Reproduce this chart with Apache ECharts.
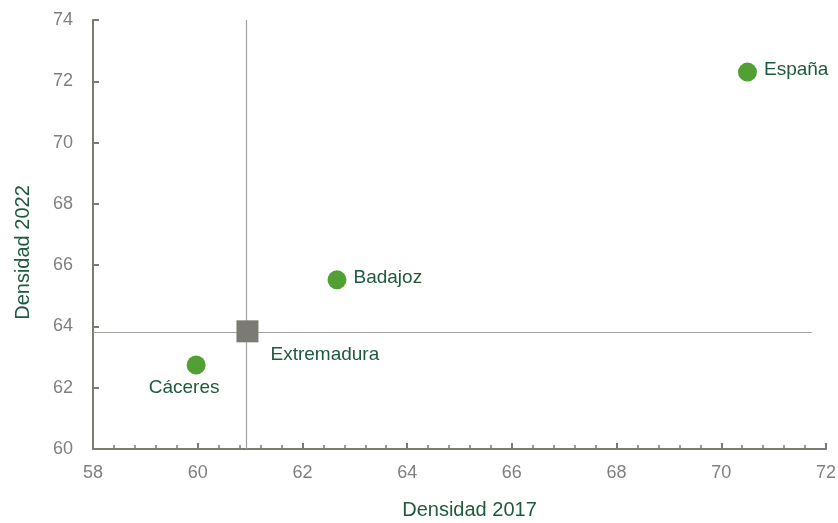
<!DOCTYPE html>
<html>
<head>
<meta charset="utf-8">
<script src="https://cdn.jsdelivr.net/npm/echarts@6/dist/echarts.min.js"></script>
<style>
  html, body { margin: 0; padding: 0; background: #fff; }
  #main { width: 838px; height: 523px; }
</style>
</head>
<body>
<div id="main"></div>
<script>
// data
var names = ['España', 'Badajoz', 'Cáceres'];
var dens2017 = [70.5, 62.66, 59.97];
var dens2022 = [72.3, 65.52, 62.74];
var labelPos = ['right', 'right', 'bottom'];

var regionName = 'Extremadura';
var region2017 = 60.95;
var region2022 = 63.84;

// reference lines through Extremadura
var refX = 60.92;
var refY = 63.8;
var refYEnd = 71.73;

var green = '#52a033';
var darkGreen = '#1e5a3e';
var gray = '#7b7b74';

var myChart = echarts.init(document.getElementById('main'));

var pts = names.map(function (n, i) {
    return {
        name: n,
        value: [dens2017[i], dens2022[i]],
        label: {
            position: labelPos[i],
            offset: labelPos[i] === 'bottom' ? [-12, -3] : [0, -2]
        }
    };
});

option = {
    backgroundColor: '#fff',
    textStyle: { fontFamily: 'Liberation Sans, Arial, sans-serif' },
    grid: { left: 93, right: 12, top: 20, bottom: 74, containLabel: false, outerBoundsMode: 'none' },
    xAxis: {
        type: 'value',
        min: 58, max: 72, interval: 2,
        name: 'Densidad 2017',
        nameLocation: 'middle',
        nameGap: 51,
        nameTextStyle: { color: darkGreen, fontSize: 20, padding: [0, 0, 0, 20] },
        axisLine: { lineStyle: { color: gray, width: 2 } },
        axisTick: { inside: true, length: 6, lineStyle: { color: gray, width: 2 } },
        minorTick: { show: true, splitNumber: 5, length: 4, lineStyle: { color: gray, width: 1.5 } },
        axisLabel: { color: '#7f7f7f', fontSize: 18, margin: 15 },
        splitLine: { show: false }
    },
    yAxis: {
        type: 'value',
        min: 60, max: 74, interval: 2,
        name: 'Densidad 2022',
        nameLocation: 'middle',
        nameGap: 60,
        nameTextStyle: { color: darkGreen, fontSize: 20, padding: [0, 36, 0, 0] },
        axisLine: { show: true, lineStyle: { color: gray, width: 2 } },
        axisTick: { show: true, inside: true, length: 6, lineStyle: { color: gray, width: 2 } },
        axisLabel: { color: '#7f7f7f', fontSize: 18, margin: 20 },
        splitLine: { show: false }
    },
    series: [
        {
            type: 'scatter',
            symbol: 'circle',
            symbolSize: 19,
            itemStyle: { color: green, opacity: 1 },
            label: {
                show: true,
                formatter: '{b}',
                color: darkGreen,
                fontSize: 19,
                distance: 7
            },
            data: pts,
            markLine: {
                silent: true,
                symbol: 'none',
                z: 1,
                label: { show: false },
                lineStyle: { color: '#a2a29c', width: 1.2, type: 'solid' },
                data: [
                    [{ coord: [refX, 60] }, { coord: [refX, 74] }],
                    [{ coord: [58, refY] }, { coord: [refYEnd, refY] }]
                ]
            },
            z: 3
        },
        {
            type: 'scatter',
            symbol: 'rect',
            symbolSize: 22,
            itemStyle: { color: gray, opacity: 1 },
            label: {
                show: true,
                formatter: '{b}',
                position: 'bottom',
                align: 'left',
                offset: [23, -1],
                color: darkGreen,
                fontSize: 19,
                distance: 4
            },
            data: [{ name: regionName, value: [region2017, region2022] }],
            z: 6
        }
    ]
};

myChart.setOption(option);
</script>
</body>
</html>
